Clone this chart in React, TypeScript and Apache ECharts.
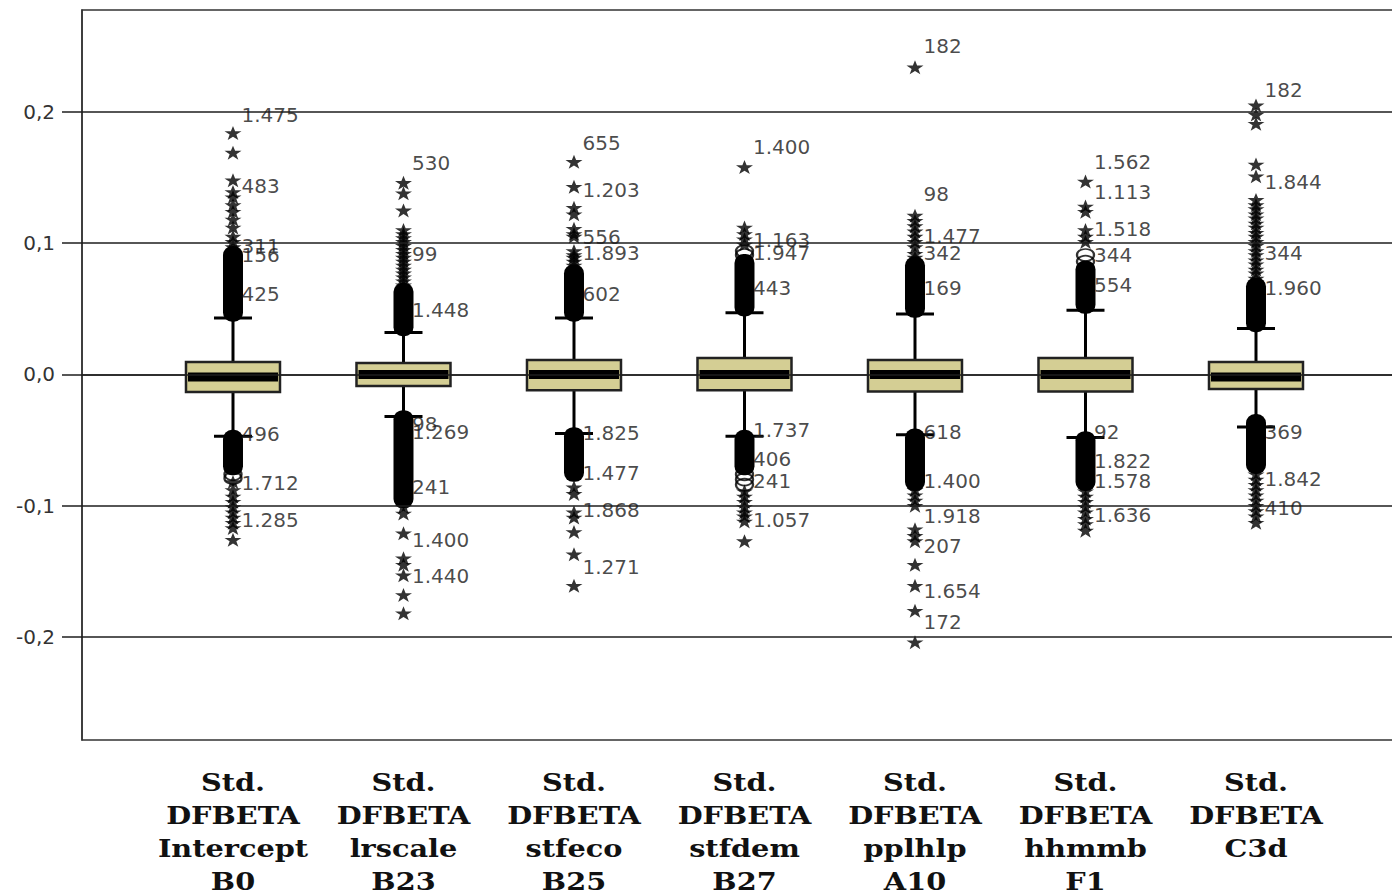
import React, { useEffect, useRef } from 'react';
import * as echarts from 'echarts';

// ---------- data ----------
const categories = [
  'Std.\nDFBETA\nIntercept\nB0',
  'Std.\nDFBETA\nlrscale\nB23',
  'Std.\nDFBETA\nstfeco\nB25',
  'Std.\nDFBETA\nstfdem\nB27',
  'Std.\nDFBETA\npplhlp\nA10',
  'Std.\nDFBETA\nhhmmb\nF1',
  'Std.\nDFBETA\nC3d',
];

const whiskerLow = [-0.047, -0.032, -0.045, -0.047, -0.046, -0.048, -0.040];
const q1 = [-0.0133, -0.0088, -0.012, -0.012, -0.013, -0.013, -0.011];
const median = [-0.002, 0.0, 0.0, 0.0, 0.0, 0.0, -0.002];
const q3 = [0.0095, 0.0088, 0.011, 0.0126, 0.011, 0.0126, 0.0095];
const whiskerHigh = [0.043, 0.032, 0.043, 0.047, 0.046, 0.049, 0.035];

// ranges where outlier circles overlap into a solid column
const denseUpper = [
  [0.044, 0.094], [0.033, 0.066], [0.044, 0.080], [0.048, 0.088],
  [0.047, 0.086], [0.050, 0.083], [0.036, 0.070],
];
const denseLower = [
  [-0.073, -0.046], [-0.098, -0.031], [-0.078, -0.044], [-0.073, -0.046],
  [-0.085, -0.045], [-0.085, -0.047], [-0.072, -0.034],
];

const circleValues = [
  [-0.076, -0.079],
  [],
  [],
  [0.091, 0.094, -0.076, -0.080, -0.084],
  [],
  [0.086, 0.091],
  [],
];

const starValues = [
  [0.184, 0.169, 0.148, 0.139, 0.135, 0.129, 0.124, 0.118, 0.112, 0.105, 0.101, 0.097,
    -0.082, -0.088, -0.093, -0.097, -0.101, -0.105, -0.109, -0.113, -0.117, -0.126],
  [0.146, 0.138, 0.125, 0.110, 0.107, 0.104, 0.101, 0.098, 0.095, 0.092, 0.089, 0.086,
    0.083, 0.080, 0.077, 0.074, 0.071, 0.068,
    -0.101, -0.106, -0.121, -0.140, -0.145, -0.153, -0.168, -0.182],
  [0.162, 0.143, 0.127, 0.122, 0.111, 0.107, 0.105, 0.094, 0.091, 0.089, 0.086, 0.083,
    -0.086, -0.091, -0.105, -0.109, -0.120, -0.137, -0.161],
  [0.158, 0.112, 0.107, 0.103, 0.099,
    -0.089, -0.093, -0.097, -0.101, -0.105, -0.108, -0.112, -0.127],
  [0.234, 0.121, 0.117, 0.113, 0.109, 0.105, 0.101, 0.097, 0.092, 0.089,
    -0.088, -0.092, -0.096, -0.100, -0.118, -0.123, -0.127, -0.145, -0.161, -0.180, -0.204],
  [0.147, 0.128, 0.124, 0.110, 0.105, 0.101,
    -0.089, -0.093, -0.097, -0.101, -0.105, -0.110, -0.114, -0.119],
  [0.205, 0.198, 0.191, 0.160, 0.151, 0.133, 0.129, 0.126, 0.122, 0.119, 0.115, 0.112,
    0.108, 0.105, 0.101, 0.098, 0.094, 0.091, 0.087, 0.084, 0.080, 0.077, 0.073,
    -0.076, -0.080, -0.084, -0.088, -0.092, -0.096, -0.100, -0.104, -0.108, -0.113],
];

// [category index, value at label, case label]
const outlierLabels: [number, number, string][] = [
  [0, 0.1977, '1.475'], [0, 0.1436, '483'], [0, 0.0979, '311'], [0, 0.0910, '156'],
  [0, 0.0613, '425'], [0, -0.0453, '496'], [0, -0.0827, '1.712'], [0, -0.1109, '1.285'],
  [1, 0.1611, '530'], [1, 0.0918, '99'], [1, 0.0491, '1.448'], [1, -0.0377, '98'],
  [1, -0.0438, '1.269'], [1, -0.0857, '241'], [1, -0.1261, '1.400'], [1, -0.1535, '1.440'],
  [2, 0.1764, '655'], [2, 0.1406, '1.203'], [2, 0.1048, '556'], [2, 0.0926, '1.893'],
  [2, 0.0613, '602'], [2, -0.0446, '1.825'], [2, -0.0750, '1.477'], [2, -0.1032, '1.868'],
  [2, -0.1467, '1.271'],
  [3, 0.1733, '1.400'], [3, 0.1025, '1.163'], [3, 0.0926, '1.947'], [3, 0.0659, '443'],
  [3, -0.0423, '1.737'], [3, -0.0644, '406'], [3, -0.0811, '241'], [3, -0.1109, '1.057'],
  [4, 0.2503, '182'], [4, 0.1375, '98'], [4, 0.1055, '1.477'], [4, 0.0926, '342'],
  [4, 0.0659, '169'], [4, -0.0438, '618'], [4, -0.0811, '1.400'], [4, -0.1078, '1.918'],
  [4, -0.1307, '207'], [4, -0.1650, '1.654'], [4, -0.1886, '172'],
  [5, 0.1619, '1.562'], [5, 0.1390, '1.113'], [5, 0.1109, '1.518'], [5, 0.0910, '344'],
  [5, 0.0682, '554'], [5, -0.0438, '92'], [5, -0.0659, '1.822'], [5, -0.0811, '1.578'],
  [5, -0.1070, '1.636'],
  [6, 0.2168, '182'], [6, 0.1467, '1.844'], [6, 0.0926, '344'], [6, 0.0659, '1.960'],
  [6, -0.0438, '369'], [6, -0.0796, '1.842'], [6, -0.1017, '410'],
];

const yTicks = [-0.2, -0.1, 0, 0.1, 0.2];
const yTickLabels = ['-0,2', '-0,1', '0,0', '0,1', '0,2'];

// ---------- chart ----------
const STAR = 'path://M50,0 L62,34 L98,34 L69,56 L80,92 L50,70 L20,92 L31,56 L2,34 L38,34 Z';
const xPos = categories.map((_, i) => i + 1);
const Y_MIN = -0.2785;
const Y_MAX = 0.2777;

export default function App() {
  const ref = useRef<HTMLDivElement>(null);

  useEffect(() => {
    if (!ref.current) return;
    const chart = echarts.init(ref.current, undefined, { renderer: 'svg' });

    const boxData = categories.map((_, i) => [xPos[i], whiskerLow[i], q1[i], median[i], q3[i], whiskerHigh[i]]);
    const denseData: number[][] = [];
    categories.forEach((_, i) => {
      denseData.push([xPos[i], denseUpper[i][0], denseUpper[i][1]]);
      denseData.push([xPos[i], denseLower[i][0], denseLower[i][1]]);
    });
    const circleData: number[][] = [];
    circleValues.forEach((arr, i) => arr.forEach((v) => circleData.push([xPos[i], v])));
    const starData: number[][] = [];
    starValues.forEach((arr, i) => arr.forEach((v) => starData.push([xPos[i], v])));
    const labelData = outlierLabels.map(([c, v, t]) => ({ value: [xPos[c], v], name: t }));

    const lineCol = '#1e1e1e';

    chart.setOption({
      animation: false,
      backgroundColor: '#ffffff',
      grid: {
        left: 82,
        top: 10,
        width: 1318,
        height: 730,
        show: true,
        borderColor: '#333',
        borderWidth: 1.5,
        backgroundColor: 'transparent',
        outerBoundsMode: 'none',
        containLabel: false,
      },
      xAxis: {
        type: 'value',
        min: 0.1144,
        max: 7.8446,
        splitLine: { show: false },
        axisLine: { show: true, lineStyle: { color: '#333', width: 1.5 } },
        axisTick: { show: true, customValues: xPos, length: 12, lineStyle: { color: lineCol, width: 2 } },
        axisLabel: { show: false },
      },
      yAxis: {
        type: 'value',
        min: Y_MIN,
        max: Y_MAX,
        splitLine: { show: false },
        axisLine: { show: true, lineStyle: { color: '#333', width: 1.5 } },
        axisTick: { show: true, customValues: yTicks, length: 20, lineStyle: { color: lineCol, width: 1.5 } },
        axisLabel: {
          show: true,
          customValues: yTicks,
          formatter: (v: number) => {
            let best = 0;
            yTicks.forEach((t, i) => { if (Math.abs(t - v) < Math.abs(yTicks[best] - v)) best = i; });
            return yTickLabels[best];
          },
          fontFamily: 'DejaVu Sans',
          fontSize: 20,
          color: '#333',
          margin: 27,
        },
      },
      series: [
        {
          type: 'scatter',
          data: [],
          z: 1,
          silent: true,
          markLine: {
            silent: true,
            symbol: ['none', 'none'],
            label: { show: false },
            lineStyle: { color: lineCol, width: 1.5, type: 'solid' },
            data: yTicks.map((v) => ({ yAxis: v })),
          },
        },
        {
          type: 'custom',
          z: 2,
          data: boxData,
          encode: { x: 0, y: [1, 2, 3, 4, 5] },
          renderItem: (params: any, api: any) => {
            const x = api.value(0);
            const cx = api.coord([x, 0])[0];
            const yLow = api.coord([x, api.value(1)])[1];
            const yQ1 = api.coord([x, api.value(2)])[1];
            const yMed = api.coord([x, api.value(3)])[1];
            const yQ3 = api.coord([x, api.value(4)])[1];
            const yHigh = api.coord([x, api.value(5)])[1];
            const halfW = 47;
            const cap = 19;
            const ls = { stroke: '#000', lineWidth: 3 };
            return {
              type: 'group',
              children: [
                { type: 'line', shape: { x1: cx, y1: yLow, x2: cx, y2: yQ1 }, style: ls },
                { type: 'line', shape: { x1: cx, y1: yQ3, x2: cx, y2: yHigh }, style: ls },
                { type: 'line', shape: { x1: cx - cap, y1: yLow, x2: cx + cap, y2: yLow }, style: ls },
                { type: 'line', shape: { x1: cx - cap, y1: yHigh, x2: cx + cap, y2: yHigh }, style: ls },
                {
                  type: 'rect',
                  shape: { x: cx - halfW, y: yQ3, width: 2 * halfW, height: yQ1 - yQ3 },
                  style: { fill: '#d4ce94', stroke: '#222', lineWidth: 2.5 },
                },
                {
                  type: 'line',
                  shape: { x1: cx - halfW + 2, y1: yMed, x2: cx + halfW - 2, y2: yMed },
                  style: { stroke: '#000', lineWidth: 9 },
                },
              ],
            };
          },
        },
        {
          type: 'custom',
          z: 3,
          data: denseData,
          encode: { x: 0, y: [1, 2] },
          renderItem: (params: any, api: any) => {
            const x = api.value(0);
            const cx = api.coord([x, 0])[0];
            const yA = api.coord([x, api.value(1)])[1];
            const yB = api.coord([x, api.value(2)])[1];
            const top = Math.min(yA, yB) - 5;
            const h = Math.abs(yA - yB) + 10;
            return {
              type: 'rect',
              shape: { x: cx - 10, y: top, width: 20, height: h, r: 9 },
              style: { fill: '#000' },
            };
          },
        },
        {
          type: 'scatter',
          z: 4,
          data: circleData,
          symbol: 'circle',
          symbolSize: [17, 12],
          itemStyle: { color: 'rgba(255,255,255,0)', borderColor: '#000', borderWidth: 2 },
        },
        {
          type: 'scatter',
          z: 4,
          data: starData,
          symbol: STAR,
          symbolSize: [17, 14],
          itemStyle: { color: '#000' },
        },
        {
          type: 'scatter',
          z: 5,
          data: labelData,
          symbolSize: 1,
          itemStyle: { color: 'rgba(0,0,0,0)' },
          label: {
            show: true,
            position: 'right',
            distance: 8,
            formatter: (p: any) => p.name,
            fontFamily: 'DejaVu Sans',
            fontSize: 20,
            color: '#1a1a1a',
          },
          labelLayout: { hideOverlap: false },
        },
      ],
    });

    // category labels under the axis, slightly widened like the original
    const graphics = categories.map((c, i) => {
      const [px, py] = chart.convertToPixel({ gridIndex: 0 }, [xPos[i], Y_MIN]) as number[];
      return {
        type: 'text',
        x: px,
        y: py + 26,
        scaleX: 1.15,
        silent: true,
        style: {
          text: c,
          x: 0,
          y: 0,
          align: 'center',
          verticalAlign: 'top',
          fontFamily: 'DejaVu Serif',
          fontWeight: 'bold',
          fontSize: 25,
          lineHeight: 33,
          fill: '#111',
        },
      };
    });
    chart.setOption({ graphic: graphics });

    return () => chart.dispose();
  }, []);

  return (
    <div
      ref={ref}
      style={{ position: 'fixed', left: 0, top: 0, width: 1392, height: 893, background: '#fff' }}
    />
  );
}
